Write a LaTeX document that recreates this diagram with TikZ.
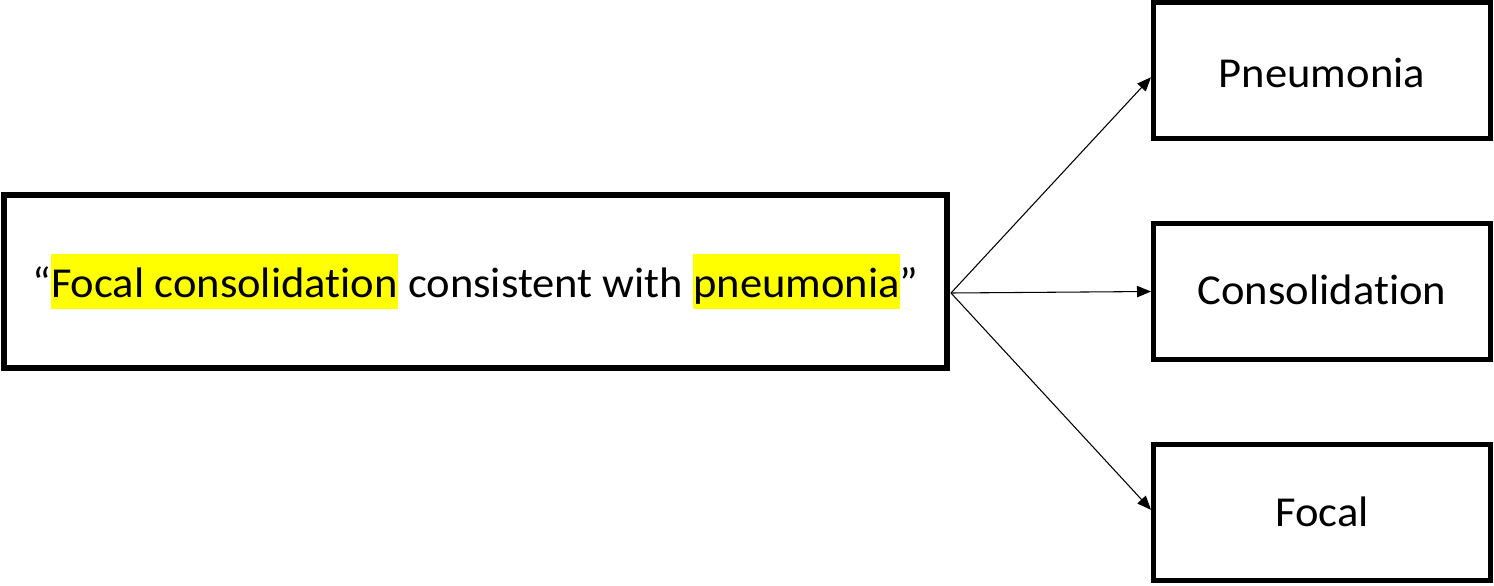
\documentclass[tikz,border=0pt]{standalone}
\usepackage{fontspec}
\setmainfont[Ligatures={NoCommon}, FakeStretch=1.045]{Carlito}
\usetikzlibrary{arrows.meta}
\definecolor{hl}{RGB}{255,255,0}
\newcommand{\hlbox}[1]{{\setlength{\fboxsep}{0pt}\colorbox{hl}{\rule[-9pt]{0pt}{41.25pt}#1}}}
\tikzset{
  bigbox/.style={draw=black, line width=4.5pt, rectangle, minimum width=943*0.75pt, minimum height=173*0.75pt, inner sep=0pt, font=\fontsize{32pt}{38pt}\selectfont, text height=32.25pt, text depth=9pt},
  termbox/.style={draw=black, line width=3.75pt, rectangle, minimum width=337*0.75pt, minimum height=135.5*0.75pt, inner sep=0pt, font=\fontsize{32pt}{38pt}\selectfont, text height=32.25pt, text depth=#1},
  arr/.style={draw=black, line width=0.8pt, -{Triangle[length=10.5pt, width=8.5pt]}}
}
\begin{document}
\begin{tikzpicture}[x=0.75pt, y=-0.75pt]
\useasboundingbox (0,0) rectangle (1494,585);
\node[bigbox] (src) at (475.5,281.5) {“\hlbox{Focal consolidation} consistent with \hlbox{pneumonia}”};
\node[termbox=6.75pt] (pn) at (1322,70.25) {Pneumonia};
\node[termbox=12.75pt] (co) at (1322,291.5) {Consolidation};
\node[termbox=11.25pt] (fo) at (1322,512.5) {Focal};
\coordinate (o) at (951,293);
\draw[arr] (o) -- ([yshift=-5.25pt]pn.west);
\draw[arr] (o) -- (co.west);
\draw[arr] (o) -- ([yshift=2pt]fo.west);
\end{tikzpicture}
\end{document}
